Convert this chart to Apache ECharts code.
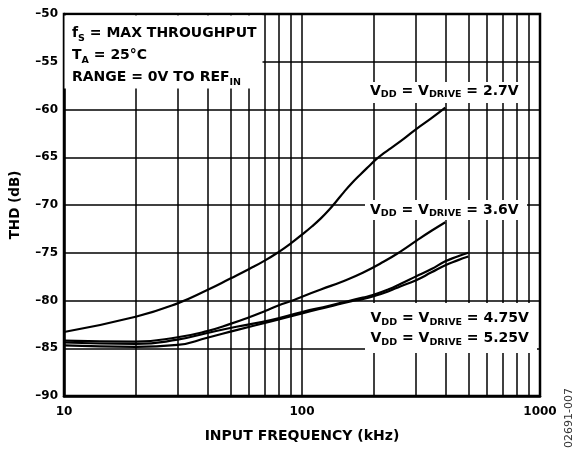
<!DOCTYPE html>
<html>
<head>
<meta charset="utf-8">
<script src="https://cdn.jsdelivr.net/npm/echarts@6/dist/echarts.min.js"></script>
<style>html,body{margin:0;padding:0;background:#fff;}#c{width:574px;height:451px;}</style>
</head>
<body>
<div id="c"></div>
<script>
// ---- data ----
const vdd27  = [[10,-83.3],[20,-81.7],[30,-80.3],[40,-78.9],[50,-77.7],[60,-76.7],[70,-75.8],[80,-74.9],[90,-74.0],[100,-73.1],[110,-72.25],[120,-71.4],[130,-70.5],[140,-69.55],[150,-68.65],[160,-67.85],[176,-66.8],[190,-66.0],[203,-65.3],[220,-64.6],[235,-64.1],[270,-63.0],[300,-62.1],[350,-60.9],[400,-59.8]];
const vdd36  = [[10,-84.2],[20,-84.3],[30,-83.85],[40,-83.2],[50,-82.45],[60,-81.75],[70,-81.1],[80,-80.5],[90,-80.05],[100,-79.6],[120,-78.85],[150,-77.95],[180,-77.1],[220,-75.95],[260,-74.85],[304,-73.7],[350,-72.7],[400,-71.8]];
const vdd475 = [[10,-84.4],[20,-84.55],[30,-84.1],[40,-83.4],[53,-82.75],[74,-82.05],[100,-81.2],[130,-80.55],[160,-80.0],[180,-79.7],[200,-79.4],[230,-78.85],[260,-78.25],[300,-77.5],[350,-76.7],[400,-75.9],[450,-75.4],[500,-75.0]];
const vdd525 = [[10,-84.7],[20,-84.85],[30,-84.65],[40,-83.9],[53,-83.1],[74,-82.2],[100,-81.35],[130,-80.65],[160,-80.1],[180,-79.85],[200,-79.55],[230,-79.05],[260,-78.5],[300,-77.9],[350,-77.05],[400,-76.3],[450,-75.8],[500,-75.4]];
const minorFreqs = [20,30,40,50,60,70,80,90,200,300,400,500,600,700,800,900];
const xTickLabels = {10:'10',100:'100',1000:'1000'};

const FONT = 'DejaVu Sans';
const chart = echarts.init(document.getElementById('c'), null, {renderer:'canvas'});

const lineSeries = (name, data) => ({
  name, type:'line', data, showSymbol:false, smooth:0.5, z:5,
  lineStyle:{color:'#000', width:2.2}, silent:true, animation:false
});

const rich = (mLH, sLH) => ({
  m:{fontFamily:FONT, fontWeight:'bold', fontSize:14, lineHeight:mLH, verticalAlign:'middle', fill:'#000'},
  s:{fontFamily:FONT, fontWeight:'bold', fontSize:9.5, lineHeight:sLH, verticalAlign:'bottom', fill:'#000'}
});

chart.setOption({
  animation:false,
  backgroundColor:'#fff',
  grid:{left:63, right:34, top:14, bottom:55, show:true, borderColor:'#000', borderWidth:2.5, containLabel:false},
  xAxis:{
    type:'log', logBase:10, min:10, max:1000,
    name:'INPUT FREQUENCY (kHz)', nameLocation:'middle', nameGap:33,
    nameTextStyle:{fontFamily:FONT, fontWeight:'bold', fontSize:14, color:'#000'},
    axisLine:{show:true, lineStyle:{color:'#000', width:2.5}},
    axisTick:{show:false},
    axisLabel:{fontFamily:FONT, fontWeight:'bold', fontSize:12, color:'#000', margin:10,
      formatter:v => xTickLabels[Math.round(v)] || ''},
    splitLine:{show:true, lineStyle:{color:'#000', width:1.5}}
  },
  yAxis:{
    type:'value', min:-90, max:-50, interval:5,
    name:'THD (dB)', nameLocation:'middle', nameGap:42,
    nameTextStyle:{fontFamily:FONT, fontWeight:'bold', fontSize:13.5, color:'#000'},
    axisLine:{show:true, lineStyle:{color:'#000', width:2.5}},
    axisTick:{show:false},
    axisLabel:{fontFamily:FONT, fontWeight:'bold', fontSize:12, color:'#000', margin:6,
      formatter:v => String(v).replace('-', '\u2013')},
    splitLine:{show:true, lineStyle:{color:'#000', width:1.5}}
  },
  series:[
    {type:'line', data:[], silent:true, z:2,
     markLine:{silent:true, symbol:'none', animation:false, label:{show:false},
       lineStyle:{color:'#000', width:1.5, type:'solid'},
       data:minorFreqs.map(f => ({xAxis:f}))}},
    lineSeries('2.7V', vdd27),
    lineSeries('3.6V', vdd36),
    lineSeries('4.75V', vdd475),
    lineSeries('5.25V', vdd525)
  ],
  graphic:[
    {type:'rect', z:100, shape:{x:64.5, y:15.5, width:198, height:73}, style:{fill:'#fff'}},
    {type:'rect', z:100, shape:{x:366, y:82, width:156, height:21}, style:{fill:'#fff'}},
    {type:'rect', z:100, shape:{x:365, y:200, width:162, height:20}, style:{fill:'#fff'}},
    {type:'rect', z:100, shape:{x:365, y:303, width:172, height:50}, style:{fill:'#fff'}},
    {type:'text', z:101, style:{x:72, y:22, verticalAlign:'top', align:'left',
      text:'{m|f}{s|S}{m| = MAX THROUGHPUT}\n{m|T}{s|A}{m| = 25°C}\n{m|RANGE = 0V TO REF}{s|IN}',
      rich:rich(22,11)}},
    {type:'text', z:101, style:{x:370, y:82, verticalAlign:'top', align:'left',
      text:'{m|V}{s|DD}{m| = V}{s|DRIVE}{m| = 2.7V}', rich:rich(18,10)}},
    {type:'text', z:101, style:{x:370, y:201, verticalAlign:'top', align:'left',
      text:'{m|V}{s|DD}{m| = V}{s|DRIVE}{m| = 3.6V}', rich:rich(18,10)}},
    {type:'text', z:101, style:{x:370.5, y:308, verticalAlign:'top', align:'left',
      text:'{m|V}{s|DD}{m| = V}{s|DRIVE}{m| = 4.75V}\n{m|V}{s|DD}{m| = V}{s|DRIVE}{m| = 5.25V}', rich:rich(20,11)}},
    {type:'text', z:101, rotation:Math.PI/2, x:569, y:418,
      style:{text:'02691-007', font:'11px "DejaVu Sans"', fill:'#333', align:'center', verticalAlign:'middle'}}
  ]
});
</script>
</body>
</html>
